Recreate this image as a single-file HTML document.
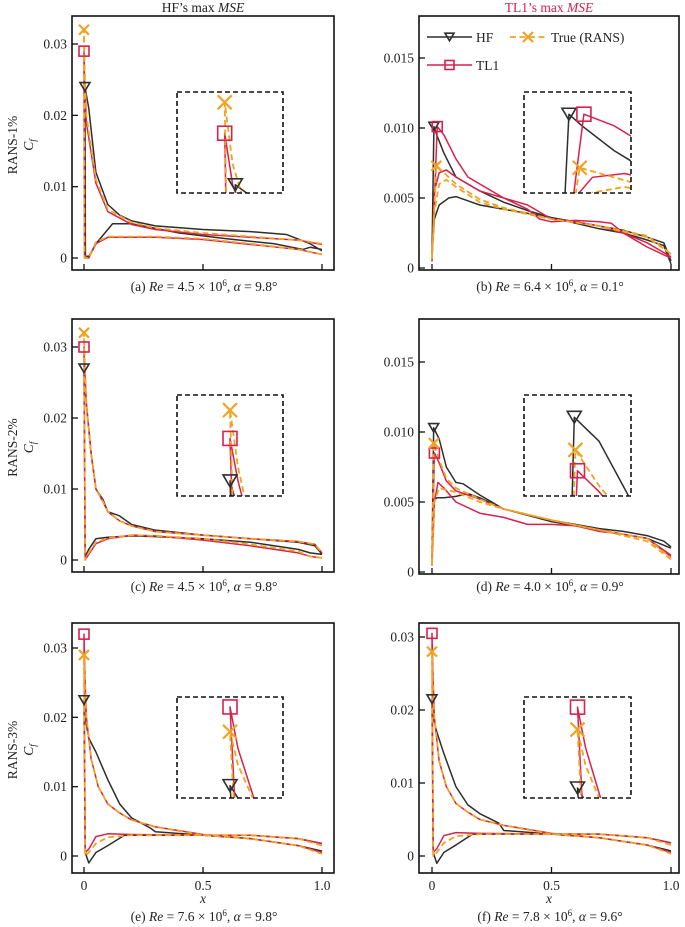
<!DOCTYPE html>
<html><head><meta charset="utf-8">
<style>
html,body{margin:0;padding:0;background:#fff;width:685px;height:927px;overflow:hidden;}
body{position:relative;font-family:"Liberation Serif",serif;}
svg{position:absolute;left:0;top:0;display:block;}
</style></head>
<body>
<svg id="fig" width="685" height="927" viewBox="0 0 685 927" xmlns="http://www.w3.org/2000/svg" font-family="Liberation Serif, serif" overflow="hidden">
<defs></defs>
<text x="203" y="12" text-anchor="middle" font-size="13.5" fill="#222">HF’s max <tspan font-style="italic">MSE</tspan></text>
<text x="549" y="12" text-anchor="middle" font-size="13.5" fill="#d6204a">TL1’s max <tspan font-style="italic">MSE</tspan></text>
</svg>
<script>
// ---------- data ----------
const aHFx=[1,0.95,0.92,0.8,0.6,0.4,0.2,0.12,0.1,0.05,0.02,0.006,0.004,0.02,0.05,0.1,0.15,0.2,0.3,0.5,0.7,0.85,0.95,1];
const aHFy=[0.0012,0.0015,0.0012,0.002,0.0027,0.0035,0.0048,0.0048,0.004,0.002,0.0002,0.0003,0.024,0.021,0.012,0.0075,0.006,0.0052,0.0045,0.004,0.0037,0.0033,0.002,0.001];
const aTrx=[1,0.9,0.7,0.5,0.3,0.1,0.05,0.02,0.002,0,0.003,0.01,0.05,0.1,0.2,0.3,0.5,0.7,0.9,1];
const aTry=[0.0005,0.0012,0.002,0.0027,0.003,0.003,0.0022,0,0,0.032,0.026,0.02,0.011,0.0068,0.005,0.0042,0.0035,0.003,0.0025,0.002];
const aTLx=[1,0.9,0.7,0.5,0.3,0.1,0.05,0.02,0.002,0,0.003,0.01,0.05,0.1,0.2,0.3,0.5,0.7,0.9,1];
const aTLy=[0.0005,0.0012,0.0019,0.0026,0.0029,0.0029,0.002,0,0,0.029,0.024,0.019,0.0105,0.0065,0.0047,0.004,0.0033,0.0029,0.0025,0.0019];

const bHFx=[1,0.97,0.9,0.8,0.7,0.5,0.4,0.3,0.2,0.15,0.1,0.07,0.03,0.01,0,0.008,0.02,0.05,0.1,0.2,0.3,0.4,0.5,0.6,0.7,0.8,0.9,0.97,1];
const bHFy=[0.0005,0.0018,0.0022,0.0027,0.003,0.0036,0.0039,0.0042,0.0045,0.0048,0.0051,0.005,0.0045,0.0035,0.001,0.0101,0.0095,0.0082,0.0065,0.0055,0.0047,0.0041,0.0036,0.0032,0.0028,0.0025,0.002,0.0016,0.0003];
const bTrx=[1,0.9,0.7,0.5,0.3,0.2,0.1,0.06,0.03,0.01,0,0.018,0.05,0.1,0.2,0.3,0.5,0.7,0.9,1];
const bTry=[0.001,0.0022,0.003,0.0035,0.0042,0.0047,0.0058,0.0063,0.006,0.004,0.0007,0.0073,0.0068,0.006,0.0049,0.0043,0.0035,0.003,0.0023,0.001];
const bTLx=[1,0.9,0.8,0.75,0.7,0.6,0.5,0.45,0.4,0.3,0.2,0.1,0.06,0.03,0.01,0,0.022,0.05,0.1,0.15,0.2,0.25,0.3,0.4,0.5,0.6,0.7,0.8,0.9,1];
const bTLy=[0.0008,0.0018,0.0025,0.0032,0.0033,0.0034,0.0033,0.0035,0.0042,0.005,0.0055,0.0065,0.007,0.0068,0.0055,0.0005,0.0101,0.0095,0.0078,0.0065,0.006,0.0055,0.005,0.0045,0.0035,0.0033,0.003,0.0025,0.0015,0.0007];

const cX=[1,0.95,0.9,0.7,0.5,0.3,0.2,0.1,0.05,0.02,0.005,0,0.003,0.01,0.03,0.05,0.08,0.1,0.15,0.2,0.3,0.5,0.7,0.9,0.97,1];
const cHFy=[0.0008,0.001,0.0015,0.0025,0.003,0.0033,0.0034,0.0032,0.003,0.0015,0.0005,0.027,0.025,0.022,0.015,0.01,0.0085,0.0068,0.0062,0.005,0.0042,0.0035,0.003,0.0025,0.002,0.0008];
const cTry=[0.0003,0.0005,0.0012,0.0022,0.003,0.0034,0.0035,0.0031,0.0025,0.001,0,0.032,0.028,0.022,0.015,0.01,0.0082,0.0068,0.0055,0.0048,0.004,0.0035,0.003,0.0026,0.0022,0.001];
const cTLy=[0.0003,0.0005,0.001,0.002,0.0028,0.0034,0.0035,0.003,0.0023,0.0008,0,0.030,0.027,0.022,0.015,0.01,0.0082,0.0068,0.0055,0.0048,0.004,0.0035,0.003,0.0026,0.0022,0.001];

const dHFx=[1,0.9,0.7,0.5,0.3,0.2,0.15,0.1,0.05,0.02,0.005,0,0.007,0.03,0.06,0.1,0.13,0.2,0.3,0.5,0.7,0.8,0.9,0.97,1];
const dHFy=[0.0017,0.0024,0.003,0.0036,0.0045,0.0053,0.0056,0.0054,0.0053,0.0053,0.005,0.001,0.0103,0.0095,0.0075,0.0064,0.0063,0.0055,0.0045,0.0037,0.0031,0.0029,0.0026,0.0022,0.0018];
const dTrx=[1,0.9,0.7,0.5,0.3,0.2,0.1,0.03,0.01,0,0.008,0.03,0.06,0.1,0.2,0.3,0.5,0.7,0.9,1];
const dTry=[0.0009,0.0022,0.003,0.0037,0.0045,0.005,0.0057,0.006,0.005,0.0005,0.0092,0.008,0.0067,0.006,0.0052,0.0045,0.0037,0.003,0.0024,0.001];
const dTLx=[1,0.9,0.8,0.7,0.6,0.5,0.4,0.3,0.2,0.1,0.05,0.025,0.01,0,0.01,0.03,0.06,0.1,0.2,0.3,0.5,0.7,0.9,1];
const dTLy=[0.0012,0.0024,0.0027,0.0029,0.0033,0.0034,0.0034,0.0039,0.0042,0.005,0.006,0.0064,0.005,0.0005,0.0085,0.0078,0.0065,0.0058,0.0052,0.0045,0.0037,0.003,0.0024,0.0011];

const eHFx=[1,0.9,0.7,0.5,0.3,0.17,0.1,0.05,0.02,0.005,0,0.005,0.02,0.05,0.1,0.15,0.2,0.28,0.3,0.5,0.7,0.9,1];
const eHFy=[0.0018,0.0025,0.003,0.003,0.003,0.003,0.0015,0.0005,-0.001,0.0005,0.0225,0.02,0.017,0.015,0.011,0.0075,0.0055,0.004,0.0035,0.003,0.0025,0.0015,0.0007];
const eX=[1,0.9,0.7,0.5,0.2,0.1,0.05,0.02,0.005,0,0.003,0.01,0.03,0.06,0.1,0.15,0.2,0.3,0.5,0.7,0.9,1];
const eTry=[0.0015,0.0025,0.003,0.003,0.003,0.0027,0.0018,0.0005,0,0.029,0.025,0.02,0.014,0.01,0.0075,0.0062,0.0052,0.0042,0.003,0.0025,0.0015,0.0003];
const eTLy=[0.0018,0.0025,0.003,0.003,0.0031,0.0032,0.0028,0.001,0.0005,0.032,0.027,0.02,0.014,0.01,0.0075,0.0062,0.0052,0.0042,0.0031,0.0025,0.0015,0.0005];

const fHFx=[1,0.9,0.7,0.5,0.3,0.17,0.1,0.05,0.02,0.005,0,0.005,0.02,0.05,0.1,0.15,0.2,0.28,0.3,0.5,0.7,0.9,1];
const fHFy=[0.0018,0.0025,0.003,0.003,0.003,0.003,0.0015,0.0005,-0.001,0.0005,0.0215,0.019,0.017,0.014,0.0095,0.007,0.0058,0.0045,0.0035,0.003,0.0025,0.0015,0.0007];
const fX=[1,0.9,0.7,0.5,0.2,0.1,0.05,0.02,0.005,0,0.003,0.01,0.03,0.06,0.1,0.15,0.2,0.3,0.5,0.7,0.9,1];
const fTry=[0.0015,0.0025,0.003,0.003,0.003,0.0027,0.0018,0.0005,0,0.028,0.024,0.019,0.013,0.0095,0.0072,0.006,0.005,0.0042,0.003,0.0025,0.0015,0.0003];
const fTLy=[0.0018,0.0025,0.003,0.003,0.0031,0.0032,0.0028,0.001,0.0005,0.0305,0.026,0.019,0.013,0.0095,0.0072,0.006,0.005,0.0042,0.0031,0.0025,0.0015,0.0005];

const yTicksLeft=[0,0.01,0.02,0.03];
const yTickLabelsLeft=["0","0.01","0.02","0.03"];
const yTicksRight=[0,0.005,0.010,0.015];
const yTickLabelsRight=["0","0.005","0.010","0.015"];
const xTicks=[0,0.5,1];
const xTickLabels=["0","0.5","1.0"];

// ---------- layout ----------
const NS="http://www.w3.org/2000/svg";
const svg=document.getElementById('fig');
const C={HF:"#2e2e2e",Tr:"#f0a323",TL:"#d8214b"};
function mk(tag,attrs,parent){const e=document.createElementNS(NS,tag);for(const k in attrs)e.setAttribute(k,attrs[k]);(parent||svg).appendChild(e);return e;}

function marker(kind,x,y,s,parent){
  let e;
  if(kind==="HF"){e=mk('path',{d:`M${x-s},${y-s*0.85}L${x+s},${y-s*0.85}L${x},${y+s*0.85}Z`,fill:'none',stroke:C.HF,'stroke-width':1.6},parent);}
  else if(kind==="Tr"){e=mk('path',{d:`M${x-s},${y-s}L${x+s},${y+s}M${x-s},${y+s}L${x+s},${y-s}`,fill:'none',stroke:C.Tr,'stroke-width':2.2},parent);}
  else {e=mk('rect',{x:x-s,y:y-s,width:2*s,height:2*s,fill:'none',stroke:C.TL,'stroke-width':1.6},parent);}
  return e;
}

const panels=[
 {id:'a',L:72,R:334,T:16,B:270,x0:84,x1:322,yp0:258,yv1:0.03,yp1:44,small:false,
  series:[['HF',aHFx,aHFy],['Tr',aTrx,aTry],['TL',aTLx,aTLy]],
  inset:{L:177,R:283,T:92,B:193,xd:[-0.018,0.022],yd:[0.0232,0.0330]},
  cap:['(a) ','4.5','9.8'],capY:291,row:1,label:'RANS-1%'},
 {id:'b',L:419,R:679,T:16,B:270,x0:432,x1:671,yp0:268,yv1:0.015,yp1:58,small:true,
  series:[['HF',bHFx,bHFy],['Tr',bTrx,bTry],['TL',bTLx,bTLy]],
  inset:{L:524,R:631,T:92,B:193,xd:[-0.034,0.066],yd:[0.00598,0.01126]},
  cap:['(b) ','6.4','0.1'],capY:291,row:1},
 {id:'c',L:72,R:334,T:319,B:572,x0:84,x1:322,yp0:560,yv1:0.03,yp1:347,small:false,
  series:[['HF',cX,cHFy],['Tr',cX,cTry],['TL',cX,cTLy]],
  inset:{L:177,R:283,T:395,B:496,xd:[-0.02,0.02],yd:[0.02593,0.03307]},
  cap:['(c) ','4.5','9.8'],capY:591,row:2,label:'RANS-2%'},
 {id:'d',L:419,R:679,T:319,B:574,x0:432,x1:671,yp0:572,yv1:0.015,yp1:362,small:true,
  series:[['HF',dHFx,dHFy],['Tr',dTrx,dTry],['TL',dTLx,dTLy]],
  inset:{L:524,R:631,T:395,B:496,xd:[-0.04,0.06],yd:[0.00765,0.01105]},
  cap:['(d) ','4.0','0.9'],capY:591,row:2},
 {id:'e',L:72,R:334,T:623,B:873,x0:84,x1:322,yp0:856,yv1:0.03,yp1:648,small:false,
  series:[['HF',eHFx,eHFy],['Tr',eX,eTry],['TL',eX,eTLy]],
  inset:{L:177,R:283,T:697,B:798,xd:[-0.02,0.02],yd:[0.021,0.0332]},
  cap:['(e) ','7.6','9.8'],capY:921,row:3,label:'RANS-3%'},
 {id:'f',L:419,R:679,T:623,B:873,x0:432,x1:671,yp0:856,yv1:0.03,yp1:637,small:false,
  series:[['HF',fHFx,fHFy],['Tr',fX,fTry],['TL',fX,fTLy]],
  inset:{L:524,R:631,T:697,B:798,xd:[-0.02,0.02],yd:[0.02038,0.03163]},
  cap:['(f) ','7.8','9.6'],capY:921,row:3}
];
const defs=svg.querySelector('defs');

function drawSeries(g,kind,xs,ys,sx,sy){
  let d='';
  for(let i=0;i<xs.length;i++){d+=(i?'L':'M')+sx(xs[i]).toFixed(2)+','+sy(ys[i]).toFixed(2);}
  const attrs={d:d,fill:'none',stroke:C[kind],'stroke-width':kind==='Tr'?1.8:1.5,'stroke-linejoin':'round'};
  if(kind==='Tr')attrs['stroke-dasharray']='6,3.5';
  return mk('path',attrs,g);
}
function peakIdx(ys){let m=0;for(let i=1;i<ys.length;i++)if(ys[i]>ys[m])m=i;return m;}
const order=['HF','TL','Tr'];

panels.forEach(p=>{
  const g=mk('g',{});
  
  
  const sx=v=>p.x0+(p.x1-p.x0)*v;
  const sy=v=>p.yp0-(p.yp0-p.yp1)*v/p.yv1;
  const cp=mk('clipPath',{id:'clip'+p.id},defs);
  mk('rect',{x:p.L,y:p.T,width:p.R-p.L,height:p.B-p.T},cp);
  const plot=mk('g',{'clip-path':'url(#clip'+p.id+')'},g);
  
  
  const ser={};p.series.forEach(s=>ser[s[0]]=s);
  order.forEach(k=>{const s=ser[k];
    const path=drawSeries(plot,k,s[1],s[2],sx,sy);
    
    
  });
  order.forEach(k=>{const s=ser[k];const i=peakIdx(s[2]);
    const m=marker(k,sx(s[1][i]),sy(s[2][i]),5,plot);
    
    
  });
  // inset
  const I=p.inset;
  const isx=v=>I.L+(I.R-I.L)*(v-I.xd[0])/(I.xd[1]-I.xd[0]);
  const isy=v=>I.B-(I.B-I.T)*(v-I.yd[0])/(I.yd[1]-I.yd[0]);
  const cpi=mk('clipPath',{id:'clipi'+p.id},defs);
  mk('rect',{x:I.L,y:I.T,width:I.R-I.L,height:I.B-I.T},cpi);
  const ig=mk('g',{},g);
  
  
  mk('rect',{x:I.L,y:I.T,width:I.R-I.L,height:I.B-I.T,fill:'#fff',stroke:'none'},ig);
  const igc=mk('g',{'clip-path':'url(#clipi'+p.id+')'},ig);
  order.forEach(k=>{const s=ser[k];
    const path=drawSeries(igc,k,s[1],s[2],isx,isy);
    
    
  });
  order.forEach(k=>{const s=ser[k];const i=peakIdx(s[2]);
    const m=marker(k,isx(s[1][i]),isy(s[2][i]),7,ig);
    
    
  });
  const ib=mk('rect',{x:I.L,y:I.T,width:I.R-I.L,height:I.B-I.T,fill:'none',stroke:'#111','stroke-width':1.6,'stroke-dasharray':'5,3'},ig);
  
  
  // frame
  const fr=mk('rect',{x:p.L,y:p.T,width:p.R-p.L,height:p.B-p.T,fill:'none',stroke:'#111','stroke-width':1.6},g);
  
  
  // y ticks
  const yt=p.small?yTicksRight:yTicksLeft, yl=p.small?yTickLabelsRight:yTickLabelsLeft;
  yt.forEach((v,i)=>{
    const y=sy(v);
    mk('line',{x1:p.L,x2:p.L+6,y1:y,y2:y,stroke:'#111','stroke-width':1.3},g);
    const t=mk('text',{x:p.L-5,y:y+4.5,'text-anchor':'end','font-size':13.5,fill:'#222'},g);
    t.textContent=yl[i];
    
    
  });
  xTicks.forEach((v,i)=>{
    const x=sx(v);
    mk('line',{x1:x,x2:x,y1:p.B,y2:p.B-6,stroke:'#111','stroke-width':1.3},g);
    if(p.row===3){
      const t=mk('text',{x:x,y:890,'text-anchor':'middle','font-size':13.5,fill:'#222'},g);
      t.textContent=xTickLabels[i];
      
      
    }
  });
  if(p.row===3){
    const t=mk('text',{x:(p.L+p.R)/2,y:903,'text-anchor':'middle','font-size':13.5,'font-style':'italic',fill:'#222'},g);
    t.textContent='x';
    
    
  }
  // caption
  const cx=(p.L+p.R)/2+1;
  const cap=mk('text',{x:cx,y:p.capY,'text-anchor':'middle','font-size':13.5,fill:'#222'},g);
  
  
  cap.innerHTML=`${p.cap[0]}<tspan font-style="italic">Re</tspan> = ${p.cap[1]} × 10<tspan font-size="9" dy="-5">6</tspan><tspan dy="5">, </tspan><tspan font-style="italic">α</tspan> = ${p.cap[2]}°`;
  if(p.label){
    const cy=(p.T+p.B)/2+2;
    const l=mk('text',{x:0,y:0,transform:`translate(17,${cy}) rotate(-90)`,'text-anchor':'middle','font-size':13.5,fill:'#222'},g);
    l.textContent=p.label;
    
    
    const c2=mk('text',{x:0,y:0,transform:`translate(33,${cy}) rotate(-90)`,'text-anchor':'middle','font-size':13.5,fill:'#222'},g);
    c2.innerHTML='<tspan font-style="italic">C</tspan><tspan font-style="italic" font-size="9" dy="3">f</tspan>';
    
    
  }
});

// legend (panel b)
const lg=mk('g',{});


function legendEntry(kind,x1,x2,y,label,tx){
  const e=mk('g',{},lg);
  
  
  const a={x1:x1,x2:x2,y1:y,y2:y,stroke:C[kind],'stroke-width':kind==='Tr'?1.8:1.5};
  if(kind==='Tr')a['stroke-dasharray']='6,3.5';
  mk('line',a,e);
  marker(kind,(x1+x2)/2,y,kind==='Tr'?5:4.5,e);
  const t=mk('text',{x:tx,y:y+5,'font-size':13.5,fill:'#222'},e);
  t.textContent=label;
}
legendEntry('HF',427,472,37,'HF',476);
legendEntry('Tr',510,546,37,'True (RANS)',551);
legendEntry('TL',427,472,65,'TL1',476);
</script>
</body></html>
